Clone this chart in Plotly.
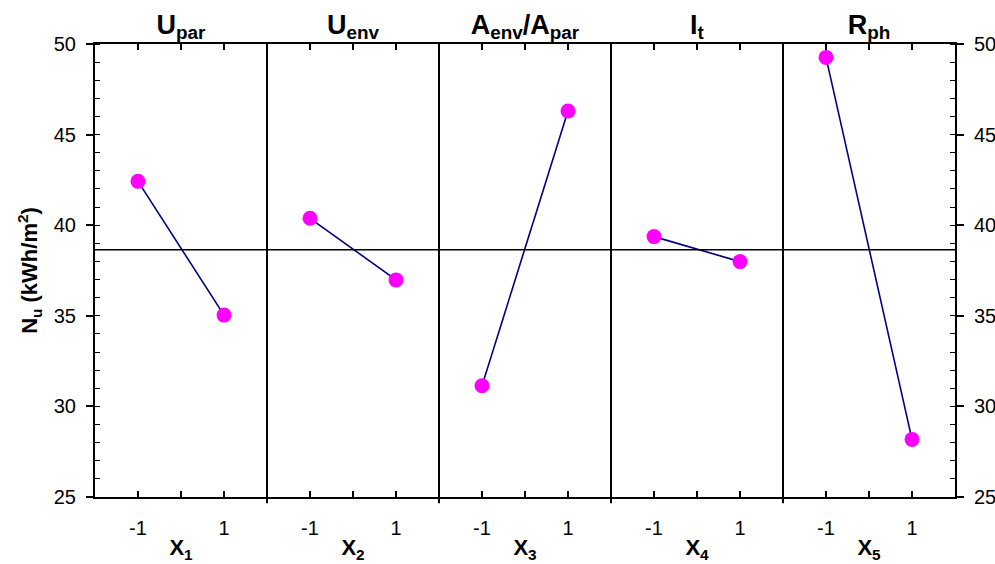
import plotly.graph_objects as go
from plotly.subplots import make_subplots

# ---- data ----
factor_titles = ["U<sub>par</sub>", "U<sub>env</sub>", "A<sub>env</sub>/A<sub>par</sub>", "I<sub>t</sub>", "R<sub>ph</sub>"]
x_titles = ["X<sub>1</sub>", "X<sub>2</sub>", "X<sub>3</sub>", "X<sub>4</sub>", "X<sub>5</sub>"]
levels = [-1, 1]
means_low = [42.42, 40.38, 31.14, 39.37, 49.26]
means_high = [35.04, 36.98, 46.30, 37.99, 28.18]
grand_mean = 38.65
y_ticks = [25, 30, 35, 40, 45, 50]
x_tick_vals = [-1, 0, 1]
x_tick_text = ["-1", "", "1"]

FONT = "Liberation Sans"
n = len(factor_titles)

fig = make_subplots(rows=1, cols=n, shared_yaxes=True, horizontal_spacing=0)

for i in range(n):
    fig.add_trace(
        go.Scatter(
            x=levels, y=[means_low[i], means_high[i]],
            mode="lines+markers",
            line=dict(color="#000080", width=1.6),
            marker=dict(color="#ff00ff", size=15, symbol="circle", line=dict(width=0)),
            showlegend=False, hoverinfo="skip",
        ),
        row=1, col=i + 1,
    )
    fig.update_xaxes(
        range=[-2, 2], tickvals=x_tick_vals, ticktext=x_tick_text,
        ticks="inside", ticklen=6, tickwidth=1.5, tickcolor="black",
        showline=True, linecolor="black", linewidth=2, mirror="ticks",
        showgrid=False, zeroline=False, automargin=False,
        tickfont=dict(family=FONT, size=20, color="black"),
        ticklabelstandoff=12,
        row=1, col=i + 1,
    )

# title axes (panel titles on top, factor labels at bottom), centred tick labels
extra_axes = {}
ax_id = n + 2
for i in range(n):
    base_x = "x" if i == 0 else f"x{i + 1}"
    base_y = "y" if i == 0 else f"y{i + 1}"
    for side, txt, size, standoff in [("top", factor_titles[i], 27, 4),
                                      ("bottom", x_titles[i], 22, 35)]:
        name = f"xaxis{ax_id}"
        extra_axes[name] = dict(
            overlaying=base_x, side=side, anchor=base_y, range=[-2, 2],
            tickvals=[0], ticktext=["<b>" + txt + "</b>"], ticks="",
            showline=False, showgrid=False, zeroline=False, automargin=False,
            tickfont=dict(family=FONT, size=size, color="black"),
            ticklabelstandoff=standoff,
        )
        fig.add_trace(go.Scatter(x=[0], y=[grand_mean], mode="markers",
                                 marker=dict(opacity=0), showlegend=False,
                                 hoverinfo="skip", xaxis=f"x{ax_id}", yaxis=base_y))
        ax_id += 1
fig.update_layout(**extra_axes)

# separators between panels
for k in range(1, n):
    fig.add_shape(type="line", xref="paper", yref="paper",
                  x0=k / n, x1=k / n, y0=-0.014, y1=1,
                  line=dict(color="black", width=2))

# grand mean line
fig.add_shape(type="line", xref="paper", yref="y",
              x0=0, x1=1, y0=grand_mean, y1=grand_mean,
              line=dict(color="black", width=1.5))

yaxis_style = dict(
    range=[25, 50], tickvals=y_ticks,
    ticks="outside", ticklen=7, tickwidth=1.5, tickcolor="black",
    minor=dict(ticks="inside", dtick=1, ticklen=5, tickwidth=1.2, tickcolor="black"),
    showline=True, linecolor="black", linewidth=2,
    showgrid=False, zeroline=False, automargin=False,
    tickfont=dict(family=FONT, size=20, color="black"),
    ticklabelstandoff=6,
)
fig.update_yaxes(**yaxis_style, row=1, col=1)
for c in range(2, n + 1):
    fig.update_yaxes(showline=False, ticks="", showgrid=False, zeroline=False, row=1, col=c)

# right y axis
fig.add_trace(go.Scatter(x=[0], y=[grand_mean], mode="markers", marker=dict(opacity=0),
                         showlegend=False, hoverinfo="skip", xaxis="x5", yaxis="y6"))
fig.update_layout(yaxis6=dict(overlaying="y5", anchor="x5", side="right", **yaxis_style))

fig.update_layout(
    width=995, height=564,
    margin=dict(l=95, r=40, t=44, b=67),
    paper_bgcolor="white", plot_bgcolor="white",
    yaxis_title=dict(text="<b>N<sub>u</sub> (kWh/m<sup>2</sup>)</b>",
                     font=dict(family=FONT, size=22, color="black"), standoff=10),
)

fig.write_html("out.html")
